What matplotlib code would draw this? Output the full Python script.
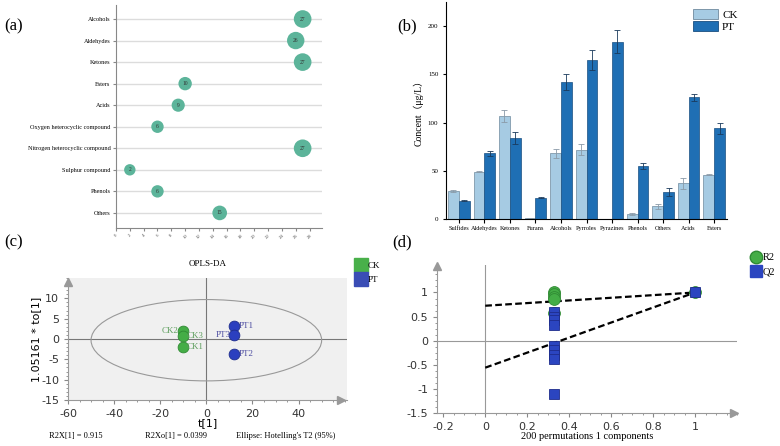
import matplotlib
matplotlib.use("Agg")
import matplotlib.pyplot as plt
import numpy as np
from matplotlib.lines import Line2D
from matplotlib.patches import Patch, Ellipse
from matplotlib.ticker import AutoMinorLocator, FuncFormatter

# ---- data (a) ----
classes_a = ["Alcohols", "Aldehydes", "Ketones", "Esters", "Acids",
             "Oxygen heterocyclic compound", "Nitrogen heterocyclic compound",
             "Sulphur compound", "Phenols", "Others"]
counts_a = [27, 26, 27, 10, 9, 6, 27, 2, 6, 15]

# ---- data (b) ----
classes_b = ["Sulfides", "Aldehydes", "Ketones", "Furans", "Alcohols", "Pyrroles",
             "Pyrazines", "Phenols", "Others", "Acids", "Esters"]
ck_mean = [29, 49, 107, 1, 68, 72, 0, 5, 13, 37, 46]
ck_err = [1, 0.5, 6, 0.3, 4.5, 5.5, 0, 1, 2.5, 5.5, 0.5]
pt_mean = [19, 68, 84, 22, 142, 165, 184, 55, 28, 126, 94]
pt_err = [0.5, 2.5, 6, 0.5, 8, 10, 12, 3, 4.5, 3.5, 5.5]

# ---- data (c) ----
ck_names = ["CK1", "CK2", "CK3"]
ck_t = [-10.3, -10.3, -10.3]
ck_to = [-2.0, 2.0, 0.7]
pt_names = ["PT1", "PT2", "PT3"]
pt_t = [12.2, 12.2, 12.2]
pt_to = [3.2, -3.8, 1.0]

# ---- data (d) ----
r2_x = [0.33, 0.33, 0.33, 0.33, 0.33, 1.0]
r2_y = [1.0, 0.96, 0.91, 0.86, 0.58, 1.0]
q2_x = [0.33, 0.33, 0.33, 0.33, 0.33, 0.33, 0.33, 0.33, 0.33, 1.0]
q2_y = [0.6, 0.5, 0.42, 0.33, -0.1, -0.2, -0.3, -0.38, -1.1, 1.0]
r2_line = [0.725, 1.0]
q2_line = [-0.56, 1.0]

serif = ["Liberation Serif", "DejaVu Serif"]
serif_cjk = ["Liberation Serif", "Noto Sans CJK SC"]
plt.rcParams["font.family"] = serif
plt.rcParams["axes.unicode_minus"] = False

fig = plt.figure(figsize=(7.8, 4.46), dpi=100)

W, H = 780.0, 446.0
def box(l, t, r, b):
    return [l / W, 1 - b / H, (r - l) / W, (b - t) / H]

# ================= (a) =================
ax = fig.add_axes(box(116, 5, 322, 228))
ypos = np.arange(len(classes_a))
for y in ypos:
    ax.plot([0, 29.8], [y, y], color="#dcdcdc", lw=1, zorder=1)
sizes = [(0.72 * (10.9 + 0.25 * v)) ** 2 for v in counts_a]
ax.scatter(counts_a, ypos, s=sizes, color="#5cb49a", zorder=3, linewidths=0)
for x, y, v in zip(counts_a, ypos, counts_a):
    ax.text(x, y, str(v), ha="center", va="center", fontsize=4, color="#333333", zorder=4)
ax.set_xlim(0, 29.8)
ax.set_ylim(9.7, -0.65)
ax.set_yticks(ypos)
ax.set_yticklabels(classes_a, fontsize=4.5)
ax.set_xticks(range(0, 29, 2))
ax.set_xticklabels([str(v) for v in range(0, 29, 2)], fontsize=3.5, rotation=45, color="#555555")
for s in ["top", "right"]:
    ax.spines[s].set_visible(False)
for s in ["left", "bottom"]:
    ax.spines[s].set_color("#888888")
    ax.spines[s].set_linewidth(0.8)
ax.tick_params(axis="y", length=2, color="#888888", pad=2)
ax.tick_params(axis="x", length=2, color="#888888", pad=2)

# ================= (b) =================
ax = fig.add_axes(box(446, 2, 727, 219))
xb = np.arange(len(classes_b))
w = 0.42
ax.bar(xb - w / 2, ck_mean, w, color="#a6cbe3", edgecolor="#6f8a9e", linewidth=0.5,
       yerr=ck_err, error_kw=dict(ecolor="#8a9aa8", elinewidth=0.6, capsize=2, capthick=0.6), label="CK")
ax.bar(xb + w / 2, pt_mean, w, color="#1f6fb4", edgecolor="#1a4f80", linewidth=0.5,
       yerr=pt_err, error_kw=dict(ecolor="#1a3a5c", elinewidth=0.6, capsize=2, capthick=0.6), label="PT")
ax.set_xlim(-0.5, 10.5)
ax.set_ylim(0, 225)
ax.set_yticks([0, 50, 100, 150, 200])
ax.set_xticks(xb)
ax.set_xticklabels(classes_b, fontsize=4.5)
ax.tick_params(axis="y", labelsize=5, length=2, width=0.8)
ax.tick_params(axis="x", length=3, width=0.8, pad=2)
for s in ["top", "right"]:
    ax.spines[s].set_visible(False)
ax.set_ylabel("Concent（μg/L）", fontsize=7, family=serif_cjk, labelpad=3)
ax.legend(handles=[Patch(facecolor="#a6cbe3", edgecolor="#6f8a9e", lw=0.6, label="CK"),
                   Patch(facecolor="#1f6fb4", edgecolor="#1a4f80", lw=0.6, label="PT")],
          loc="upper left", bbox_to_anchor=(0.88, 0.97), frameon=False, fontsize=8,
          handlelength=2.2, handleheight=1.1, handletextpad=0.4, labelspacing=0.1,
          borderaxespad=0, borderpad=0)

# ================= (c) =================
ax = fig.add_axes(box(68, 278, 347, 400))
ax.set_facecolor("#f0f0f0")
ax.set_xlim(-60, 61)
ax.set_ylim(-15, 15)
ax.axhline(0, color="#777777", lw=0.8, zorder=1)
ax.axvline(0, color="#777777", lw=0.8, zorder=1)
ax.add_patch(Ellipse((0, -0.3), 100, 20, facecolor="none", edgecolor="#999999", lw=0.8, zorder=2))
ax.scatter(ck_t, ck_to, s=60, color="#44ad46", edgecolors="#2f8a33", linewidths=0.6, zorder=4)
ax.scatter(pt_t, pt_to, s=60, color="#2b3fbf", edgecolors="#1e2d8c", linewidths=0.6, zorder=4)
for name, x, y in zip(ck_names, ck_t, ck_to):
    if name == "CK2":
        ax.text(x - 1.8, y, name, ha="right", va="center", fontsize=6.5, color="#5d9e5d", zorder=5)
    else:
        ax.text(x + 1.8, y, name, ha="left", va="center", fontsize=6.5, color="#5d9e5d", zorder=5)
for name, x, y in zip(pt_names, pt_t, pt_to):
    if name == "PT3":
        ax.text(x - 1.8, y, name, ha="right", va="center", fontsize=6.5, color="#4b4ba0", zorder=5)
    else:
        ax.text(x + 1.8, y, name, ha="left", va="center", fontsize=6.5, color="#4b4ba0", zorder=5)
ax.set_xticks([-60, -40, -20, 0, 20, 40])
ax.set_yticks([-15, -10, -5, 0, 5, 10])
ax.xaxis.set_minor_locator(AutoMinorLocator(4))
ax.yaxis.set_minor_locator(AutoMinorLocator(5))
for lab in ax.get_xticklabels() + ax.get_yticklabels():
    lab.set_family("DejaVu Sans")
ax.tick_params(which="major", labelsize=8, length=3, color="#888888", labelcolor="#333333")
ax.tick_params(which="minor", length=1.5, color="#888888")
for s in ["top", "right"]:
    ax.spines[s].set_visible(False)
for s in ["left", "bottom"]:
    ax.spines[s].set_color("#999999")
ax.plot(0, 0.97, marker="^", color="#999999", markersize=6, transform=ax.transAxes, clip_on=False)
ax.plot(0.98, 0, marker=">", color="#999999", markersize=6, transform=ax.transAxes, clip_on=False)
ax.set_xlabel("t[1]", fontsize=8, family="DejaVu Sans", labelpad=-1)
ax.set_ylabel("1.05161 * to[1]", fontsize=8, family="DejaVu Sans", labelpad=0)
ax.set_title("OPLS-DA", fontsize=6.5, pad=9)
ax.legend(handles=[Line2D([], [], ls="none", marker="s", ms=10, color="#49b04a", label="CK"),
                   Line2D([], [], ls="none", marker="s", ms=10, color="#3a4db5", label="PT")],
          loc="upper left", bbox_to_anchor=(1.035, 1.13), frameon=False, fontsize=6.5,
          handlelength=1.0, handletextpad=0.2, labelspacing=0.6, borderaxespad=0, borderpad=0)
fig.text(49 / W, 1 - 436 / H, "R2X[1] = 0.915", fontsize=6, va="center")
fig.text(145 / W, 1 - 436 / H, "R2Xo[1] = 0.0399", fontsize=6, va="center")
fig.text(236 / W, 1 - 436 / H, "Ellipse: Hotelling's T2 (95%)", fontsize=6, va="center")

# ================= (d) =================
ax = fig.add_axes(box(437, 265, 737, 413))
ax.set_xlim(-0.23, 1.2)
ax.set_ylim(-1.5, 1.57)
ax.axhline(0, color="#999999", lw=0.8, zorder=1)
ax.axvline(0, color="#999999", lw=0.8, zorder=1)
ax.plot([0, 1], r2_line, color="black", lw=1.6, ls=(0, (3, 1.5)), zorder=3)
ax.plot([0, 1], q2_line, color="black", lw=1.6, ls=(0, (3, 1.5)), zorder=3)
ax.plot(r2_x, r2_y, ls="none", marker="o", ms=8.5, color="#44ad46", mec="#2f8a33", mew=0.6, zorder=4)
ax.plot(q2_x, q2_y, ls="none", marker="s", ms=7.5, color="#2b45c0", mec="#1e2d8c", mew=0.6, zorder=5)
ax.set_xticks([-0.2, 0, 0.2, 0.4, 0.6, 0.8, 1.0])
ax.set_yticks([-1.5, -1, -0.5, 0, 0.5, 1])
fmt = FuncFormatter(lambda v, p: "%g" % round(v, 2))
ax.xaxis.set_major_formatter(fmt)
ax.yaxis.set_major_formatter(fmt)
ax.xaxis.set_minor_locator(AutoMinorLocator(4))
ax.yaxis.set_minor_locator(AutoMinorLocator(4))
for lab in ax.get_xticklabels() + ax.get_yticklabels():
    lab.set_family("DejaVu Sans")
ax.tick_params(which="major", labelsize=8, length=3, color="#888888", labelcolor="#333333")
ax.tick_params(which="minor", length=1.5, color="#888888")
for s in ["top", "right"]:
    ax.spines[s].set_visible(False)
for s in ["left", "bottom"]:
    ax.spines[s].set_color("#999999")
ax.plot(0, 0.99, marker="^", color="#999999", markersize=6, transform=ax.transAxes, clip_on=False)
ax.plot(0.99, 0, marker=">", color="#999999", markersize=6, transform=ax.transAxes, clip_on=False)
ax.set_xlabel("200 permutations 1 components", fontsize=7.5, labelpad=0)
ax.legend(handles=[Line2D([], [], ls="none", marker="o", ms=9, color="#44ad46", mec="#2f8a33", label="R2"),
                   Line2D([], [], ls="none", marker="s", ms=8, color="#2b45c0", label="Q2")],
          loc="upper left", bbox_to_anchor=(1.045, 1.08), frameon=False, fontsize=7.5,
          handlelength=1.0, handletextpad=0.2, labelspacing=0.5, borderaxespad=0, borderpad=0)

# panel labels
fig.text(4 / W, 1 - 26 / H, "(a)", fontsize=12, va="center")
fig.text(397 / W, 1 - 26 / H, "(b)", fontsize=12, va="center")
fig.text(4 / W, 1 - 242 / H, "(c)", fontsize=12, va="center")
fig.text(392 / W, 1 - 242 / H, "(d)", fontsize=12, va="center")

fig.savefig("out.png", dpi=100)
